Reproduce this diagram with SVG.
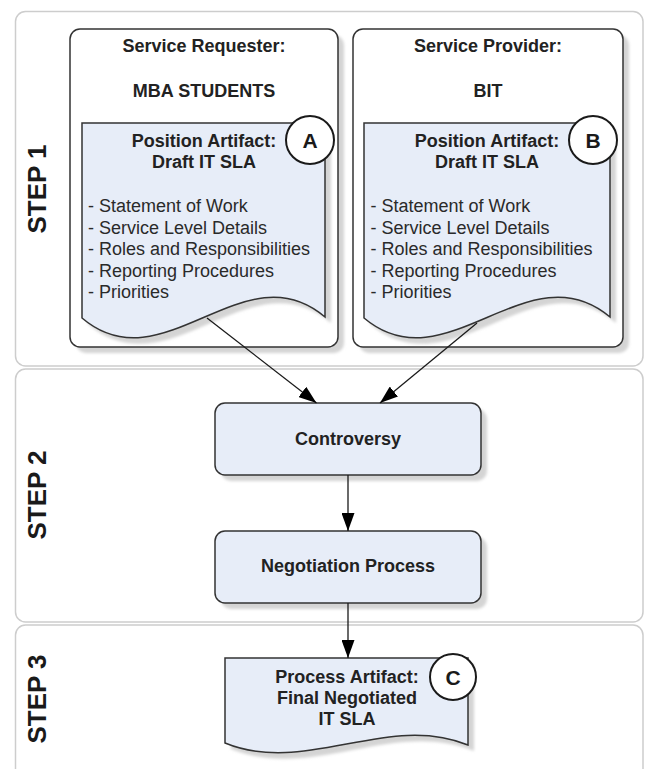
<svg xmlns="http://www.w3.org/2000/svg" width="648" height="769" viewBox="0 0 648 769">
  <defs>
    <style>
      .lane { fill: #ffffff; stroke: #cdcdcd; stroke-width: 1.5; }
      .step { font-family: "Liberation Sans", Arial, sans-serif; font-weight: bold; font-size: 26px; fill: #1a1a1a; text-anchor: middle; }
      .box { fill: #ffffff; stroke: #333333; stroke-width: 1.5; }
      .proc { fill: #e7edf8; stroke: #333333; stroke-width: 1.5; }
      .doc { fill: #e7edf8; stroke: #333333; stroke-width: 1.5; }
      .shadow { fill: #d4d4d4; filter: url(#blur); }
      .title { font-family: "Liberation Sans", Arial, sans-serif; font-weight: bold; font-size: 18px; fill: #222222; text-anchor: middle; }
      .list { font-family: "Liberation Sans", Arial, sans-serif; font-size: 18px; fill: #2a2a2a; }
      .badge { fill: #ffffff; stroke: #1a1a1a; stroke-width: 2; }
      .badgeText { font-family: "Liberation Sans", Arial, sans-serif; font-weight: bold; font-size: 21px; fill: #1a1a1a; text-anchor: middle; }
      .conn { fill: none; stroke: #1a1a1a; stroke-width: 1.3; marker-end: url(#arrow); }
    </style>
    <filter id="blur" x="-10%" y="-10%" width="120%" height="120%">
      <feGaussianBlur stdDeviation="1.5"/>
    </filter>
    <marker id="arrow" markerUnits="userSpaceOnUse" markerWidth="18" markerHeight="13" refX="18" refY="6.5" orient="auto">
      <path d="M0,0 L18,6.5 L0,13 Z" fill="#000000"/>
    </marker>
  </defs>

  <g id="lanes">
    <rect class="lane" x="15.5" y="11.5" width="627.5" height="354.5" rx="10"/>
    <rect class="lane" x="15.5" y="369" width="627.5" height="253" rx="10"/>
    <rect class="lane" x="15.5" y="625" width="627.5" height="200" rx="10"/>
    <text class="step" transform="translate(46,189) rotate(-90)">STEP 1</text>
    <text class="step" transform="translate(46,495) rotate(-90)">STEP 2</text>
    <text class="step" transform="translate(46,699) rotate(-90)">STEP 3</text>
  </g>

  <g id="requester">
    <rect class="shadow" x="76" y="35" width="268" height="318" rx="10"/>
    <rect class="box" x="70" y="29" width="268" height="318" rx="10"/>
    <text class="title" x="204" y="52">Service Requester:</text>
    <text class="title" x="204" y="97">MBA STUDENTS</text>
  </g>

  <g id="provider">
    <rect class="shadow" x="359" y="35" width="270" height="318" rx="10"/>
    <rect class="box" x="353" y="29" width="270" height="318" rx="10"/>
    <text class="title" x="488" y="52">Service Provider:</text>
    <text class="title" x="488" y="97">BIT</text>
  </g>

  <g id="artifactA">
    <path class="shadow" d="M88,129 H331 V323 C250,254 169,393 88,324 Z"/>
    <path class="doc" d="M82,123 H325 V317 C244,248 163,387 82,318 Z"/>
    <text class="title" x="204" y="147">Position Artifact:</text>
    <text class="title" x="204" y="168">Draft IT SLA</text>
    <text class="list" x="88" y="212">- Statement of Work</text>
    <text class="list" x="88" y="233.6">- Service Level Details</text>
    <text class="list" x="88" y="255.2">- Roles and Responsibilities</text>
    <text class="list" x="88" y="276.8">- Reporting Procedures</text>
    <text class="list" x="88" y="298.4">- Priorities</text>
    <circle class="badge" cx="310" cy="140" r="24"/>
    <text class="badgeText" x="310" y="148">A</text>
  </g>

  <g id="artifactB">
    <path class="shadow" d="M370,129 H616 V323 C534,254 452,393 370,324 Z"/>
    <path class="doc" d="M364,123 H610 V317 C528,248 446,387 364,318 Z"/>
    <text class="title" x="487" y="147">Position Artifact:</text>
    <text class="title" x="487" y="168">Draft IT SLA</text>
    <text class="list" x="370.5" y="212">- Statement of Work</text>
    <text class="list" x="370.5" y="233.6">- Service Level Details</text>
    <text class="list" x="370.5" y="255.2">- Roles and Responsibilities</text>
    <text class="list" x="370.5" y="276.8">- Reporting Procedures</text>
    <text class="list" x="370.5" y="298.4">- Priorities</text>
    <circle class="badge" cx="593" cy="140" r="24"/>
    <text class="badgeText" x="593" y="148">B</text>
  </g>

  <g id="controversy">
    <rect class="shadow" x="221" y="409" width="266" height="72" rx="10"/>
    <rect class="proc" x="215" y="403" width="266" height="72" rx="10"/>
    <text class="title" x="348" y="445">Controversy</text>
  </g>

  <g id="negotiation">
    <rect class="shadow" x="221" y="537" width="266" height="72" rx="10"/>
    <rect class="proc" x="215" y="531" width="266" height="72" rx="10"/>
    <text class="title" x="348" y="572">Negotiation Process</text>
  </g>

  <g id="artifactC">
    <path class="shadow" d="M231,664 H474 V751 C393,718 312,782 231,749 Z"/>
    <path class="doc" d="M225,658 H468 V745 C387,712 306,776 225,743 Z"/>
    <text class="title" x="347" y="683">Process Artifact:</text>
    <text class="title" x="347" y="704">Final Negotiated</text>
    <text class="title" x="347" y="725">IT SLA</text>
    <circle class="badge" cx="453" cy="677" r="23"/>
    <text class="badgeText" x="453" y="685">C</text>
  </g>

  <g id="connectors">
    <path class="conn" d="M207,318 L316.5,403"/>
    <path class="conn" d="M477,323 L380,403"/>
    <path class="conn" d="M348,475 L348,531"/>
    <path class="conn" d="M348,603 L348,658"/>
  </g>
</svg>
